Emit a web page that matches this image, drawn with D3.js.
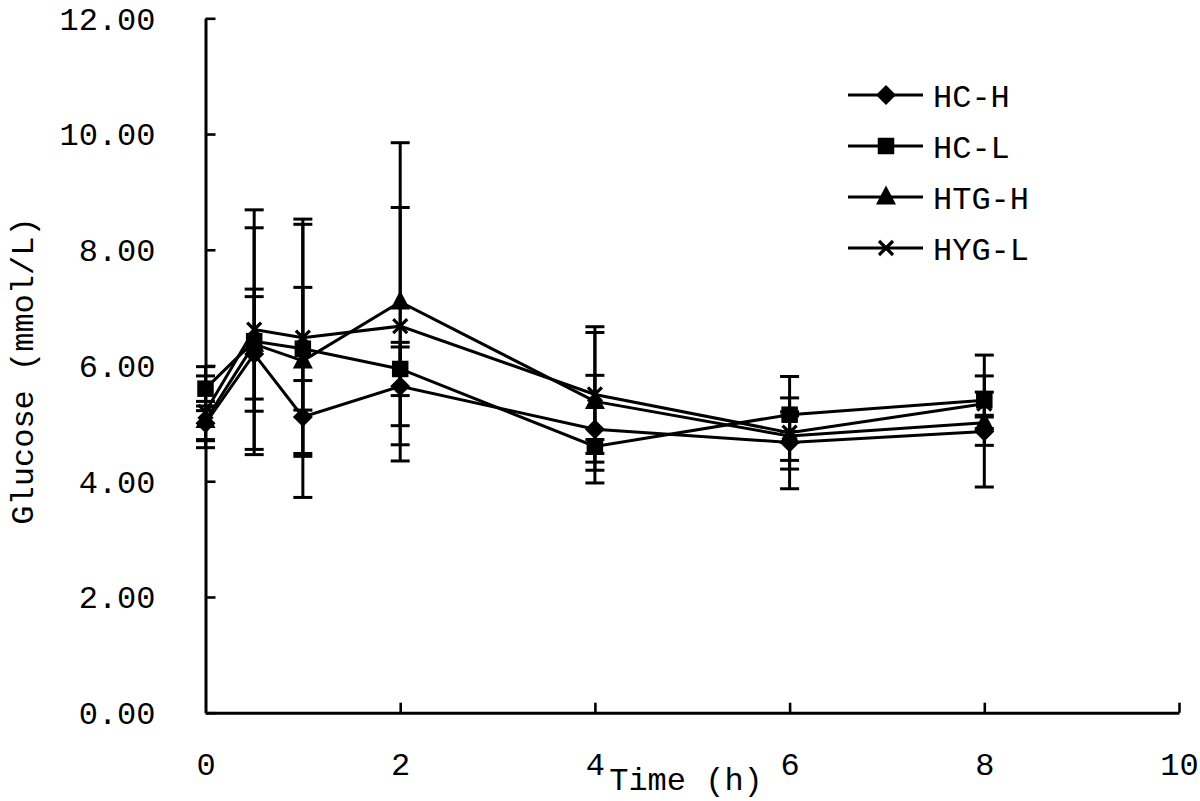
<!DOCTYPE html>
<html>
<head>
<meta charset="utf-8">
<script src="https://cdn.jsdelivr.net/npm/d3@7"></script>
<style>
  html, body { margin: 0; padding: 0; background: #fff; }
  svg { display: block; }
  text { font-family: "Liberation Mono", "DejaVu Sans Mono", monospace; fill: #000; }
</style>
</head>
<body>
<svg id="chart" width="1200" height="801"></svg>
<script>
// ---- data ----
const times = [0, 0.5, 1, 2, 4, 6, 8];
const seriesNames = ["HC-H", "HC-L", "HTG-H", "HYG-L"];
const markerTypes = ["diamond", "square", "triangle", "cross"];
const hcHMean  = [5.00, 6.20, 5.11, 5.64, 4.90, 4.67, 4.86];
const hcHSd    = [0.30, 0.99, 0.63, 0.68, 0.93, 0.46, 0.96];
const hcLMean  = [5.60, 6.42, 6.29, 5.94, 4.60, 5.15, 5.40];
const hcLSd    = [0.38, 1.96, 1.06, 0.46, 0.12, 0.29, 0.78];
const htgHMean = [5.05, 6.37, 6.08, 7.10, 5.38, 4.78, 5.01];
const htgHSd   = [0.33, 0.95, 2.36, 2.75, 1.19, 0.42, 0.10];
const hygLMean = [5.20, 6.62, 6.48, 6.68, 5.50, 4.84, 5.34];
const hygLSd   = [0.62, 2.07, 2.05, 2.05, 1.17, 0.97, 0.20];
const xTicks = [0, 2, 4, 6, 8, 10];
const yTicks = [0, 2, 4, 6, 8, 10, 12];
const xTitle = "Time (h)";
const yTitle = "Glucose (mmol/L)";

const means = [hcHMean, hcLMean, htgHMean, hygLMean];
const sds = [hcHSd, hcLSd, htgHSd, hygLSd];
const series = seriesNames.map((name, i) => ({
  name, marker: markerTypes[i],
  points: times.map((t, j) => ({ t, v: means[i][j], sd: sds[i][j] }))
}));

// ---- layout ----
const svg = d3.select("#chart");
const x = d3.scaleLinear().domain([0, 10]).range([205.5, 1179]);
const y = d3.scaleLinear().domain([0, 12]).range([712.7, 18.3]);

const fontSize = 32;
const sw = 3;

// axes
const yAxis = d3.axisLeft(y).tickValues(yTicks).tickSizeInner(-10).tickSizeOuter(0)
  .tickPadding(50).tickFormat(d3.format(".2f"));
const gy = svg.append("g").attr("transform", `translate(${x(0)},0)`).call(yAxis);
gy.select(".domain").attr("stroke", "#000").attr("stroke-width", sw);
gy.selectAll(".tick line").attr("stroke", "#000").attr("stroke-width", 2.6);
gy.selectAll(".tick text").attr("font-size", fontSize).attr("font-family", null)
  .attr("dy", "0.34em").style("font-family", '"Liberation Mono", monospace');

const xAxis = d3.axisBottom(x).tickValues(xTicks).tickSizeInner(-10).tickSizeOuter(0)
  .tickPadding(0).tickFormat(d3.format("d"));
const gx = svg.append("g").attr("transform", `translate(0,${y(0)})`).call(xAxis);
gx.select(".domain").attr("stroke", "#000").attr("stroke-width", sw);
gx.selectAll(".tick line").attr("stroke", "#000").attr("stroke-width", 2.6)
  .attr("display", d => d === 0 ? "none" : null);
gx.selectAll(".tick text").attr("font-size", fontSize).attr("font-family", null)
  .attr("y", 62).attr("dy", 0).style("font-family", '"Liberation Mono", monospace');

// axis titles
svg.append("text").attr("x", 686).attr("y", 790).attr("text-anchor", "middle")
  .attr("font-size", fontSize).text(xTitle);
svg.append("text").attr("transform", "translate(33,371) rotate(-90)")
  .attr("text-anchor", "middle").attr("font-size", fontSize).text(yTitle);

// marker drawer
function drawMarker(g, type, cx, cy) {
  if (type === "diamond") {
    const r = 10;
    g.append("path").attr("d", `M${cx},${cy - r}L${cx + r},${cy}L${cx},${cy + r}L${cx - r},${cy}Z`).attr("fill", "#000");
  } else if (type === "square") {
    const s = 16.5;
    g.append("rect").attr("x", cx - s / 2).attr("y", cy - s / 2).attr("width", s).attr("height", s).attr("fill", "#000");
  } else if (type === "triangle") {
    const w = 20, h = 19;
    g.append("path").attr("d", `M${cx},${cy - h * 0.6}L${cx + w / 2},${cy + h * 0.4}L${cx - w / 2},${cy + h * 0.4}Z`).attr("fill", "#000");
  } else {
    const r = 7;
    g.append("path").attr("d", `M${cx - r},${cy - r}L${cx + r},${cy + r}M${cx + r},${cy - r}L${cx - r},${cy + r}`)
      .attr("stroke", "#000").attr("stroke-width", 3.2).attr("fill", "none");
  }
}

// error bars
const plot = svg.append("g");
const capHalf = 9.5;
series.forEach(s => {
  const eb = plot.append("g").attr("stroke", "#000").attr("stroke-width", sw);
  s.points.forEach(p => {
    const px = x(p.t), top = y(p.v + p.sd), bot = y(p.v - p.sd);
    eb.append("line").attr("x1", px).attr("x2", px).attr("y1", top).attr("y2", bot);
    eb.append("line").attr("x1", px - capHalf).attr("x2", px + capHalf).attr("y1", top).attr("y2", top);
    eb.append("line").attr("x1", px - capHalf).attr("x2", px + capHalf).attr("y1", bot).attr("y2", bot);
  });
});

// lines
const line = d3.line().x(d => x(d.t)).y(d => y(d.v));
series.forEach(s => {
  plot.append("path").datum(s.points).attr("d", line)
    .attr("fill", "none").attr("stroke", "#000").attr("stroke-width", sw);
});

// markers
series.forEach(s => {
  const g = plot.append("g");
  s.points.forEach(p => drawMarker(g, s.marker, x(p.t), y(p.v)));
});

// legend
const legendX1 = 848, legendX2 = 923, legendMx = 886, legendTx = 933;
const legendY = d3.scalePoint().domain(seriesNames).range([95, 248]);
series.forEach(s => {
  const ly = legendY(s.name);
  const g = svg.append("g");
  g.append("line").attr("x1", legendX1).attr("x2", legendX2).attr("y1", ly).attr("y2", ly)
    .attr("stroke", "#000").attr("stroke-width", sw);
  drawMarker(g, s.marker, legendMx, ly);
  g.append("text").attr("x", legendTx).attr("y", ly).attr("dy", "0.36em")
    .attr("font-size", fontSize).text(s.name);
});
</script>
</body>
</html>
